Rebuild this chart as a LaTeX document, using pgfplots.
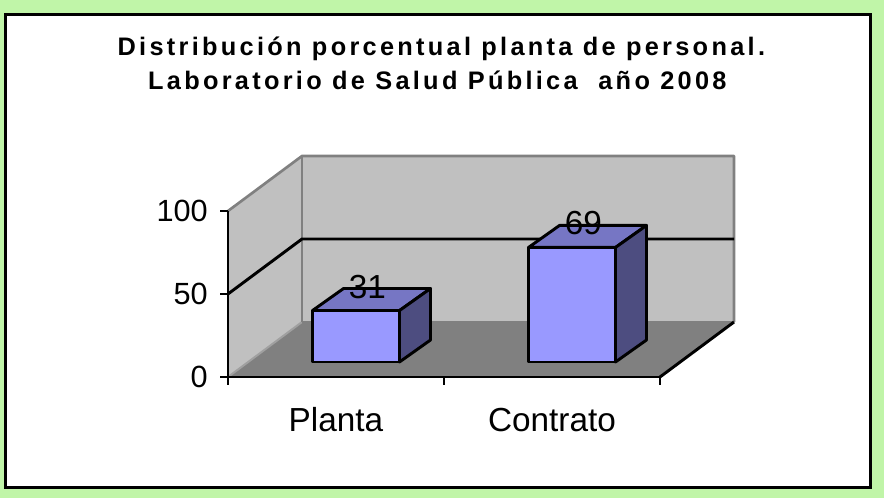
\documentclass[border=0pt]{standalone}
\usepackage{pgfplots}
\pgfplotsset{compat=1.18}
\usepackage{fontspec}
\setmainfont{Liberation Sans}
\newfontfamily\titlefont[LetterSpace=13]{Liberation Sans}
\definecolor{bggreen}{RGB}{192,245,168}
\definecolor{wallgray}{RGB}{192,192,192}
\definecolor{edgegray}{RGB}{128,128,128}
\definecolor{lightedge}{RGB}{160,160,160}
\definecolor{floorgray}{RGB}{128,128,128}
\definecolor{barfront}{RGB}{153,153,255}
\definecolor{bartop}{RGB}{118,118,196}
\definecolor{barside}{RGB}{77,77,128}
\pgfdeclareplotmark{none3d}{}
\begin{document}
\begin{tikzpicture}
\fill[bggreen] (0pt,0pt) rectangle (663pt,373.5pt);
\draw[line width=2.25pt, fill=white] (3.75pt,7.5pt) rectangle (652.5pt,362.25pt);
\node[anchor=base, inner sep=0pt, font=\titlefont\bfseries\fontsize{19}{23}\selectfont] at (331pt,331.5pt) {Distribución porcentual planta de personal.};
\node[anchor=base, inner sep=0pt, font=\titlefont\bfseries\fontsize{19}{23}\selectfont] at (328pt,306pt) {Laboratorio de Salud Pública\ \ año 2008};
\begin{axis}[
  at={(171pt,90.75pt)}, anchor=south west,
  scale only axis, width=324pt, height=124.5pt,
  xmin=0, xmax=2, ymin=0, ymax=100,
  clip=false, axis on top,
  axis x line*=bottom, axis y line*=left,
  axis line style={line width=2.2pt, -, black},
  xtick={0,1,2}, xticklabels={},
  ytick={0,50,100},
  tick align=outside, major tick length=6pt,
  tick style={line width=2.2pt, black},
  /pgf/number format/assume math mode=true,
  yticklabel style={font=\fontsize{23}{27}\selectfont, inner sep=0pt, xshift=-9pt},
  extra x ticks={0.5,1.5},
  extra x tick labels={Planta,Contrato},
  extra x tick style={major tick length=0pt, tick style={draw=none},
     xticklabel style={font=\fontsize{25}{30}\selectfont, anchor=base, inner sep=0pt, yshift=-41pt}},
]
% walls and floor
\fill[wallgray] (axis cs:0,0) -- (axis cs:0,100) -- (axis cs:0.3426,133.13) -- (axis cs:0.3426,33.13) -- cycle;
\fill[wallgray] (axis cs:0.3426,33.13) rectangle (axis cs:2.3426,133.13);
\fill[floorgray] (axis cs:0,0) -- (axis cs:2,0) -- (axis cs:2.3426,33.13) -- (axis cs:0.3426,33.13) -- cycle;
\draw[lightedge, line width=1.5pt] (axis cs:0,0) -- (axis cs:0.3426,33.13);
\draw[edgegray, line width=1.5pt] (axis cs:0.3426,33.13) -- (axis cs:2.3426,33.13);
\draw[edgegray, line width=1.5pt] (axis cs:0.3426,33.13) -- (axis cs:0.3426,133.13);
\draw[edgegray, line width=2pt, line join=round] (axis cs:0,100) -- (axis cs:0.3426,133.13) -- (axis cs:2.3426,133.13) -- (axis cs:2.3426,33.13);
\draw[black, line width=2.2pt] (axis cs:0,50) -- (axis cs:0.3426,83.13) -- (axis cs:2.3426,83.13);
\draw[black, line width=2.2pt] (axis cs:2,0) -- (axis cs:2.3426,33.13);
% bars (3D boxes drawn from each data value) with value labels
\addplot[scatter, only marks, mark=none3d,
  visualization depends on={value \thisrow{v} \as \val},
  scatter/@pre marker code/.code={
    \pgfmathsetlengthmacro\B{11.25pt-\val*1.245pt}
    \pgfmathsetlengthmacro\Bb{\B+16.5pt}
    \begin{scope}[line width=2.2pt, line join=round, draw=black]
    \filldraw[fill=barfront] (-17.625pt,\B) rectangle (47.625pt,11.25pt);
    \filldraw[fill=bartop] (-17.625pt,11.25pt) -- (47.625pt,11.25pt) -- (70.875pt,27.75pt) -- (5.625pt,27.75pt) -- cycle;
    \filldraw[fill=barside] (47.625pt,\B) -- (70.875pt,\Bb) -- (70.875pt,27.75pt) -- (47.625pt,11.25pt) -- cycle;
    \node[anchor=center, inner sep=0pt, font=\fontsize{25}{30}\selectfont, text=black] at (23.5pt,29.2pt) {\val};
    \end{scope}
  },
  scatter/@post marker code/.code={},
] table[x=x, y=v] {
x v
0.5 31
1.5 69
};
\end{axis}
\pgfresetboundingbox
\useasboundingbox (0pt,0pt) rectangle (663pt,373.5pt);
\end{tikzpicture}
\end{document}
